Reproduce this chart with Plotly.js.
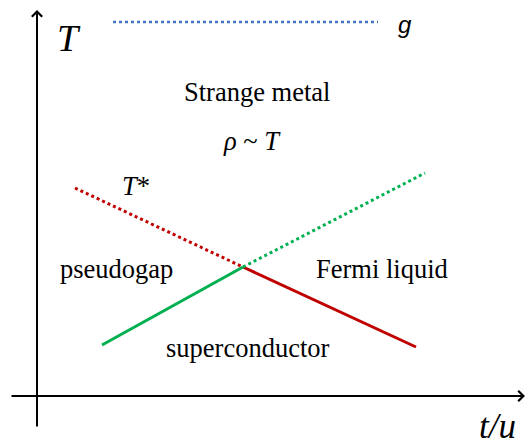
<!DOCTYPE html>
<html><head><meta charset="utf-8">
<script src="https://cdn.plot.ly/plotly-3.0.1.min.js"></script>
<style>html,body{margin:0;padding:0;background:#fff}#plot{width:529px;height:445px}</style>
</head><body><div id="plot"></div>
<script>
// Schematic phase diagram: coordinates in arbitrary units of t/u (x) and T (y)
const gX = [7.6, 34.1], gY = [37.4, 37.4];              // g line (blue dotted)
const tStarX = [3.8, 20.6], tStarY = [20.8, 12.9];       // T* (red dotted)
const flX = [20.6, 37.9], flY = [12.9, 4.9];             // Fermi liquid boundary (red solid)
const scX = [6.5, 20.6], scY = [5.1, 12.9];              // superconductor dome edge (green solid)
const smX = [20.6, 38.8], smY = [12.9, 22.3];            // green dotted
const labels = ["Strange metal", "<i>ρ</i> ~ <i>T</i>", "<i>T</i>*", "pseudogap", "Fermi liquid", "superconductor"];
const labelX = [21.95, 21.5, 9.9, 7.9, 34.5, 21.05];
const labelY = [30.4, 25.5, 21.0, 12.7, 12.7, 4.8];

const serif = "'Liberation Serif', 'Times New Roman', Times, serif";
const traces = [
  {x: gX, y: gY, mode: "lines", line: {color: "#4472c4", width: 2.5, dash: "dot"}},
  {x: tStarX, y: tStarY, mode: "lines", line: {color: "#c00000", width: 3, dash: "dot"}},
  {x: flX, y: flY, mode: "lines", line: {color: "#c00000", width: 3}},
  {x: scX, y: scY, mode: "lines", line: {color: "#00b050", width: 3}},
  {x: smX, y: smY, mode: "lines", line: {color: "#00b050", width: 3, dash: "dot"}}
];
const ann = labels.map((t, i) => ({x: labelX[i], y: labelY[i], text: t, showarrow: false,
  font: {family: serif, size: 26.5, color: "#000"}, xanchor: "center", yanchor: "middle"}));
ann.push({x: 3.2, y: 35.8, text: "<i>T</i>", showarrow: false, font: {family: serif, size: 38, color: "#000"}});
ann.push({x: 46.0, y: -3.0, text: "<i>t/u</i>", showarrow: false, font: {family: serif, size: 35, color: "#000"}});
ann.push({x: 36.8, y: 37.2, text: "<i>g</i>", showarrow: false, font: {family: "'Liberation Sans', Arial, sans-serif", size: 24, color: "#000"}});
// axes arrows
ann.push({x: 0, y: 38.6, ax: 0, ay: -3.2, axref: "x", ayref: "y", xref: "x", yref: "y", showarrow: true,
  arrowhead: 4, arrowsize: 1, arrowwidth: 2, arrowcolor: "#000", text: ""});
ann.push({x: 48.8, y: 0, ax: -2.7, ay: 0, axref: "x", ayref: "y", xref: "x", yref: "y", showarrow: true,
  arrowhead: 4, arrowsize: 1, arrowwidth: 2, arrowcolor: "#000", text: ""});

const layout = {
  width: 529, height: 445, margin: {l: 0, r: 0, t: 0, b: 0},
  paper_bgcolor: "#fff", plot_bgcolor: "#fff", showlegend: false,
  font: {family: serif},
  xaxis: {range: [-3.7, 49.2], visible: false, fixedrange: true},
  yaxis: {range: [-4.9, 39.6], visible: false, fixedrange: true},
  annotations: ann
};
Plotly.newPlot("plot", traces, layout, {staticPlot: true, displayModeBar: false});
</script></body></html>
